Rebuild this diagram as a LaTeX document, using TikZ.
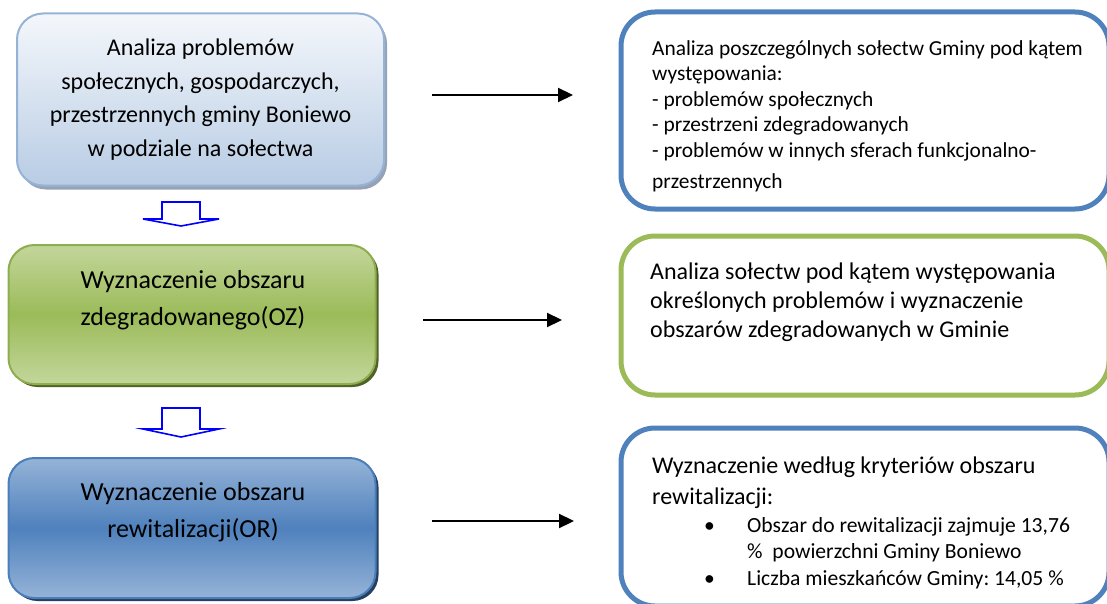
\documentclass[tikz,border=0pt]{standalone}
\usepackage{fontspec}
\setmainfont{Carlito}
\usetikzlibrary{arrows.meta,shadows}
\definecolor{lbTop}{HTML}{F4F7FB}
\definecolor{lbBot}{HTML}{B8CCE4}
\definecolor{lbLine}{HTML}{95B3D7}
\definecolor{lbShadow}{HTML}{97A3B4}
\definecolor{grLight}{HTML}{C3D69B}
\definecolor{grMid}{HTML}{9BBB59}
\definecolor{grLine}{HTML}{8EAD4E}
\definecolor{grShadow}{HTML}{4F6228}
\definecolor{blLight}{HTML}{95B3D7}
\definecolor{blMid}{HTML}{4F81BD}
\definecolor{blLine}{HTML}{4A7EBB}
\definecolor{blShadow}{HTML}{243F60}
\definecolor{rBlue}{HTML}{4F81BD}
\definecolor{rGreen}{HTML}{9BBB59}
\definecolor{hollow}{HTML}{0000FF}
\begin{document}
\frenchspacing
\begin{tikzpicture}[x=1pt,y=-1pt,
  leftbox/.style={rounded corners=26pt, line width=2pt, minimum width=367pt, inner sep=0pt},
  rightbox/.style={rounded corners=34pt, line width=5pt, fill=white, inner sep=0pt, minimum width=488pt},
  bigtext/.style={font=\fontsize{24}{33.5}\selectfont, align=center, inner sep=0pt},
  greentext/.style={font=\fontsize{26}{37}\selectfont, align=center, inner sep=0pt, anchor=base},
  flowarrow/.style={line width=2.2pt, -{Triangle[length=15pt,width=14pt]}},
  hollowarrow/.style={draw=hollow, line width=1.6pt, fill=white, line join=miter}
]
\useasboundingbox (0,0) rectangle (1107,604);

% left column boxes
\node[leftbox, draw=lbLine, top color=lbTop, bottom color=lbBot, minimum height=172pt,
  general shadow={fill=lbShadow, shadow xshift=3pt, shadow yshift=-4pt},
  bigtext] (b1) at (200.5,99.5) {Analiza problemów\\społecznych, gospodarczych,\\przestrzennych gminy Boniewo\\w podziale na sołectwa};

\node[leftbox, draw=grLine, top color=grLight, bottom color=grLight, middle color=grMid, minimum height=139pt,
  general shadow={fill=grShadow, shadow xshift=3pt, shadow yshift=-3pt}] (b2) at (192,314.5) {};
\node[greentext] (t2) at (193,325) {Wyznaczenie obszaru\\zdegradowanego(OZ)};

\node[leftbox, draw=blLine, top color=blLight, bottom color=blLight, middle color=blMid, minimum height=140pt,
  general shadow={fill=blShadow, shadow xshift=3pt, shadow yshift=-3pt}] (b3) at (192,528) {};
\node[greentext] (t3) at (193,537) {Wyznaczenie obszaru\\rewitalizacji(OR)};

% hollow block arrows
\path[hollowarrow] (162,202) -- (200,202) -- (200,219) -- (219,219) -- (181,226) -- (143,219) -- (162,219) -- cycle;
\path[hollowarrow] (162,408) -- (200,408) -- (200,429) -- (219,429) -- (181,437) -- (143,429) -- (162,429) -- cycle;

% right boxes
\node[rightbox, draw=rBlue, minimum height=197pt] (r1) at (865,110.5) {};
\node[rightbox, draw=rGreen, minimum height=159pt] (r2) at (865,315.5) {};
\node[rightbox, draw=rBlue, minimum height=178pt] (r3) at (865,517) {};

\node[anchor=base west, align=left, inner sep=0pt, font=\fontsize{21.4}{25.5}\selectfont] (r1t) at (652,188)
  {Analiza poszczególnych sołectw Gminy pod kątem\\występowania:\\- problemów społecznych\\- przestrzeni zdegradowanych\\- problemów w innych sferach funkcjonalno-\\[5pt]przestrzennych};

\node[anchor=base west, align=left, inner sep=0pt, font=\fontsize{24}{29}\selectfont] (r2t) at (650,337)
  {Analiza sołectw pod kątem występowania\\określonych problemów i wyznaczenie\\obszarów zdegradowanych w Gminie};

\node[anchor=base west, align=left, inner sep=0pt, font=\fontsize{24}{31}\selectfont] (r3t) at (652,504)
  {Wyznaczenie według kryteriów obszaru\\rewitalizacji:};
\node[anchor=base west, align=left, inner sep=0pt, font=\fontsize{21.6}{26.5}\selectfont] (r3l) at (704,585)
  {\makebox[43pt][l]{\textbullet}Obszar do rewitalizacji zajmuje 13,76\\\hspace*{43pt}\%\ \ powierzchni Gminy Boniewo\\\makebox[43pt][l]{\textbullet}Liczba mieszkańców Gminy: 14,05 \%};

% horizontal arrows
\coordinate (a1s) at (432,95);  \coordinate (a1e) at (573,95);
\coordinate (a2s) at (423,320); \coordinate (a2e) at (562,320);
\coordinate (a3s) at (432,521); \coordinate (a3e) at (574,521);
\draw[flowarrow] (a1s) -- (a1e);
\draw[flowarrow] (a2s) -- (a2e);
\draw[flowarrow] (a3s) -- (a3e);
\end{tikzpicture}
\end{document}
